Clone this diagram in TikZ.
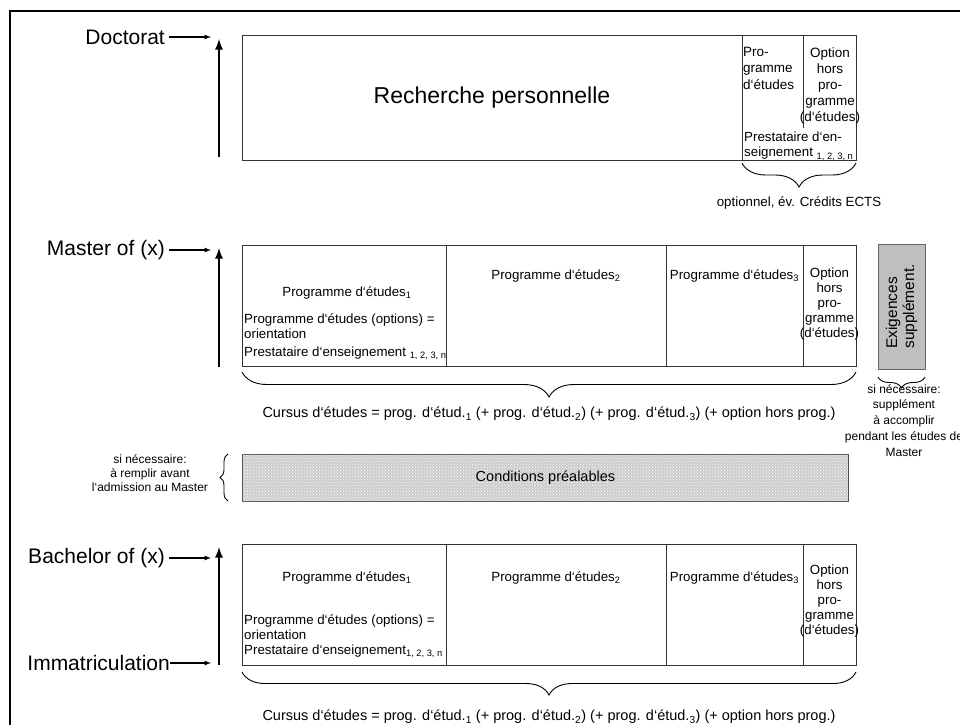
\documentclass[tikz,border=0pt]{standalone}
\usepackage{fontspec}
\setmainfont{Liberation Sans}
\usetikzlibrary{arrows, calc, positioning, patterns, decorations.pathreplacing}
\tikzset{
  % level arrows
  harr/.style={-latex, line width=1.2pt},
  varr/.style={-latex, line width=2.6pt},
  % boxes and cells
  cell/.style={draw=black!80, line width=0.9pt, inner sep=0pt, outer sep=0pt,
    anchor=north west, minimum height=121pt},
  divl/.style={draw=black!80, line width=0.9pt},
  brc/.style={decorate, decoration={brace, mirror, amplitude=#1}, line width=0.9pt},
  lvl/.style={font=\fontsize{21}{24}\selectfont, inner sep=4pt},
  txt/.style={font=\fontsize{13.3}{15}\selectfont, inner sep=0pt},
  curs/.style={font=\fontsize{14.5}{16}\selectfont, inner sep=0pt},
  capt/.style={font=\fontsize{12}{14}\selectfont, inner sep=0pt, align=center},
}

\begin{document}
\begin{tikzpicture}[x=1pt, y=1pt,
    optx/.style={txt, align=center, anchor=north},
    exbox/.style={draw=black!60, fill=black!25, line width=0.9pt, inner sep=0pt},
    condbox/.style={draw=black!70, fill=black!20, line width=0.9pt, inner sep=0pt,
      postaction={pattern=crosshatch dots, pattern color=white}}
  ]
  \useasboundingbox (0,0) rectangle (960,-724);
  \clip (0,0) rectangle (960,-724);
  \draw[line width=1.5pt] (10,-11) rectangle (990,-750);

  % Doctorat
  \node[lvl, anchor=east] (doclbl) at (169,-37) {Doctorat};
  \coordinate (doctip) at (211,-37);
  \draw[harr] (doclbl) -- (doctip);
  \coordinate (docbot) at (219,-157);
  \coordinate (doctop) at (219,-39);
  \draw[varr] (docbot) -- (doctop);

  \node[cell, minimum width=500pt, minimum height=125pt,
        font=\fontsize{23}{26}\selectfont] (rech) at (242,-35) {Recherche personnelle};
  \node[cell, minimum width=114pt, minimum height=125pt] (docopt) at (rech.north east) {};
  \draw[divl] ($(docopt.north west)+(61,0)$) -- ++(0,-93);
  \node[txt, align=left, anchor=north west, font=\fontsize{13.5}{16.5}\selectfont]
    (docprog) at ($(docopt.north west)+(1,-12)$) {Pro-\\gramme\\d‘études};
  \node[optx, font=\fontsize{13.5}{16}\selectfont]
    (docoptx) at ($(docopt.north west)+(88,-13)$) {Option\\hors\\pro-\\gramme\\(d‘études)};
  \node[txt, align=left, anchor=north west]
    (docpres) at ($(docopt.north west)+(2,-97)$) {Prestataire d‘en-\\seignement \textsubscript{1, 2, 3, n}};
  \draw[brc=24] ($(docopt.south west)+(0,-3)$) -- ($(docopt.south east)+(0,-3)$);
  \node[txt] (ects) at ($(docopt.south)+(0,-43)$) {optionnel, év. Crédits ECTS};

  % Master
  \node[lvl, anchor=east] (malbl) at (169,-250) {Master of (x)};
  \coordinate (matip) at (211,-250);
  \draw[harr] (malbl) -- (matip);
  \coordinate (mabot) at (219,-367);
  \coordinate (matop) at (219,-248);
  \draw[varr] (mabot) -- (matop);

  \node[cell, minimum width=204pt] (m1) at (242,-245) {};
  \node[cell, minimum width=220pt] (m2) at (m1.north east) {};
  \node[cell, minimum width=137pt] (m3) at (m2.north east) {};
  \node[cell, minimum width=53pt] (m4) at (m3.north east) {};
  \node[txt] (m1p) at ($(m1.north)+(3,-48)$) {Programme d‘études\textsubscript{1}};
  \node[txt, align=left, anchor=north west] (m1o) at ($(m1.north west)+(2,-68)$)
    {Programme d‘études (options) =\\orientation};
  \node[txt, anchor=west] (m1s) at ($(m1.north west)+(2,-108)$)
    {Prestataire d‘enseignement \textsubscript{1, 2, 3, n}};
  \node[txt] (m2p) at ($(m2.north)+(0,-31)$) {Programme d‘études\textsubscript{2}};
  \node[txt] (m3p) at ($(m3.north)+(0,-31)$) {Programme d‘études\textsubscript{3}};
  \node[optx] (m4p) at ($(m4.north)+(0,-23)$) {Option\\hors\\pro-\\gramme\\(d‘études)};
  \draw[brc=25] ($(m1.south west)+(0,-6)$) -- ($(m4.south east)+(0,-6)$);
  \node[curs] (macur) at ($(m1.south west)!0.5!(m4.south east)+(0,-48)$)
    {Cursus d‘études = prog. d‘étud.\textsubscript{1} (+ prog. d‘étud.\textsubscript{2}) (+ prog. d‘étud.\textsubscript{3}) (+ option hors prog.)};

  % Exigences
  \node[exbox, rotate=90, minimum width=125pt, minimum height=47pt, align=left,
        font=\fontsize{15.5}{17}\selectfont] (exig) at (901.5,-306.5) {Exigences\\supplément.};
  \coordinate (exl) at (878,-377);
  \coordinate (exr) at (925,-377);
  \draw[brc=11] (exl) -- (exr);
  \node[capt, anchor=north, font=\fontsize{12}{15.8}\selectfont] (excap) at (904,-384)
    {si nécessaire:\\supplément\\à accomplir\\pendant les études de\\Master};

  % Conditions
  \node[condbox, minimum width=606pt, minimum height=47pt, anchor=north west,
        font=\fontsize{14.5}{16}\selectfont] (cond) at (242,-454) {Conditions préalables};
  \coordinate (cbot) at (228,-501);
  \coordinate (ctop) at (228,-454);
  \draw[brc=8] (ctop) -- (cbot);
  \node[capt] (ccap) at (150,-473) {si nécessaire:\\à remplir avant\\l‘admission au Master};

  % Bachelor
  \node[lvl, anchor=east] (balbl) at (169,-558) {Bachelor of (x)};
  \coordinate (batip) at (211,-558);
  \draw[harr] (balbl) -- (batip);
  \node[lvl, anchor=east, inner sep=0pt] (imlbl) at (170,-663) {Immatriculation};
  \coordinate (imtip) at (211,-663);
  \draw[harr] (imlbl) -- (imtip);
  \coordinate (babot) at (219,-665);
  \coordinate (batop) at (219,-547);
  \draw[varr] (babot) -- (batop);

  \node[cell, minimum width=204pt] (b1) at (242,-544) {};
  \node[cell, minimum width=220pt] (b2) at (b1.north east) {};
  \node[cell, minimum width=137pt] (b3) at (b2.north east) {};
  \node[cell, minimum width=53pt] (b4) at (b3.north east) {};
  \node[txt] (b1p) at ($(b1.north)+(3,-34)$) {Programme d‘études\textsubscript{1}};
  \node[txt, align=left, anchor=north west] (b1o) at ($(b1.north west)+(2,-70)$)
    {Programme d‘études (options) =\\orientation};
  \node[txt, anchor=west] (b1s) at ($(b1.north west)+(2,-107)$)
    {Prestataire d‘enseignement\textsubscript{1, 2, 3, n}};
  \node[txt] (b2p) at ($(b2.north)+(0,-34)$) {Programme d‘études\textsubscript{2}};
  \node[txt] (b3p) at ($(b3.north)+(0,-34)$) {Programme d‘études\textsubscript{3}};
  \node[optx] (b4p) at ($(b4.north)+(0,-21)$) {Option\\hors\\pro-\\gramme\\(d‘études)};
  \draw[brc=23] ($(b1.south west)+(0,-7)$) -- ($(b4.south east)+(0,-7)$);
  \node[curs] (bacur) at ($(b1.south west)!0.5!(b4.south east)+(0,-52)$)
    {Cursus d‘études = prog. d‘étud.\textsubscript{1} (+ prog. d‘étud.\textsubscript{2}) (+ prog. d‘étud.\textsubscript{3}) (+ option hors prog.)};
\end{tikzpicture}
\end{document}
